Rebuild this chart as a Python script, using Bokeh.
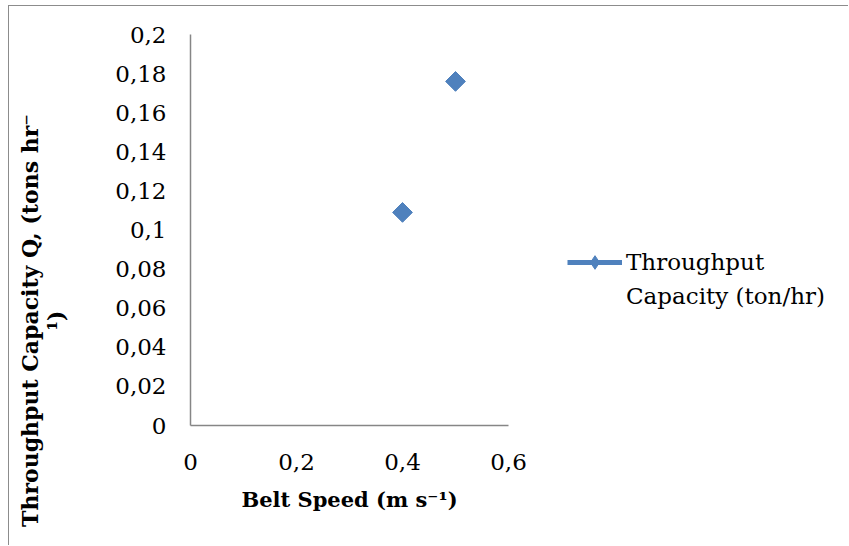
import math
from bokeh.plotting import figure
from bokeh.layouts import row
from bokeh.models import (FixedTicker, Legend, LegendItem, Label, Range1d,
                          ColumnDataSource)
from bokeh.embed import file_html
from bokeh.resources import INLINE

# ---- data ----
belt_speed = [0.4, 0.5]
throughput = [0.109, 0.176]
series_name_lines = ["Throughput", "Capacity (ton/hr)"]
x_ticks = [0.0, 0.2, 0.4, 0.6]
x_tick_labels = ["0", "0,2", "0,4", "0,6"]
y_ticks = [0.0, 0.02, 0.04, 0.06, 0.08, 0.1, 0.12, 0.14, 0.16, 0.18, 0.2]
y_tick_labels = ["0", "0,02", "0,04", "0,06", "0,08", "0,1", "0,12", "0,14",
                 "0,16", "0,18", "0,2"]
x_title = "Belt Speed (m s\u207b\u00b9)"
y_title = "Throughput Capacity Q, (tons hr\u207b\n\u00b9)"

FONT = "DejaVu Serif"
BLUE = "#4F81BD"
GREY = "#868686"

OX, OY = 9, 6          # content origin inside the chart border
H = 545 - OY            # common height
LW = 70 - OX            # left strip (y title)
MW = 560 - 70           # main plot
RW = 848 - 560          # right strip (legend)


def blank(width):
    f = figure(width=width, height=H, output_backend="svg",
               toolbar_location=None, x_range=Range1d(0, 1),
               y_range=Range1d(0, 1), x_axis_location=None,
               y_axis_location=None, min_border=0, min_border_left=0,
               min_border_right=0, min_border_top=0, min_border_bottom=0)
    f.frame_align = False
    f.outline_line_color = None
    f.xgrid.visible = False
    f.ygrid.visible = False
    return f


# ---- main plot ----
p = figure(width=MW, height=H, output_backend="svg", toolbar_location=None,
           x_range=Range1d(0, 0.6), y_range=Range1d(0, 0.2),
           min_border_left=190 - 70, min_border_right=560 - 508,
           min_border_top=34 - OY, min_border_bottom=545 - 425)
p.frame_align = False
p.outline_line_color = None
p.xgrid.visible = False
p.ygrid.visible = False

for ax in (p.xaxis[0], p.yaxis[0]):
    ax.axis_line_color = GREY
    ax.axis_line_width = 1.5
    ax.major_tick_line_color = None
    ax.minor_tick_line_color = None
    ax.major_label_text_font = FONT
    ax.major_label_text_font_size = "23px"
    ax.major_label_text_color = "black"

p.xaxis.ticker = FixedTicker(ticks=x_ticks)
p.yaxis.ticker = FixedTicker(ticks=y_ticks)
p.xaxis.major_label_overrides = dict(zip(x_ticks, x_tick_labels))
p.yaxis.major_label_overrides = dict(zip(y_ticks, y_tick_labels))
p.xaxis.major_label_standoff = 22
p.yaxis.major_label_standoff = 18

p.xaxis.axis_label = x_title
p.xaxis.axis_label_text_font = FONT
p.xaxis.axis_label_text_font_style = "bold"
p.xaxis.axis_label_text_font_size = "21px"
p.xaxis.axis_label_text_color = "black"
p.xaxis.axis_label_standoff = 14

src = ColumnDataSource(dict(x=belt_speed, y=throughput))
p.scatter("x", "y", source=src, marker="square", size=14,
          angle=math.pi / 4, fill_color=BLUE, line_color=BLUE)

# ---- left strip: y axis title ----
left = blank(LW)
left.add_layout(Label(x=42 - OX, y=545 - 320, x_units="screen",
                      y_units="screen", text=y_title, angle=math.pi / 2,
                      text_align="center", text_baseline="middle",
                      text_line_height=1.0, text_font=FONT,
                      text_font_style="bold", text_font_size="22px",
                      text_color="black"))

# ---- right strip: legend ----
right = blank(RW)
nan = float("nan")
key_line = right.line(x=[nan], y=[nan], line_color=BLUE, line_width=5)
key_mark = right.scatter(x=[nan], y=[nan], marker="diamond", size=16,
                         fill_color=BLUE, line_color=BLUE)
key_none = right.line(x=[nan], y=[nan], line_alpha=0)
legend = Legend(items=[LegendItem(label=series_name_lines[0],
                                  renderers=[key_line, key_mark]),
                       LegendItem(label=series_name_lines[1],
                                  renderers=[key_none])],
                location=(567 - 560, 545 - 313),
                glyph_width=55, glyph_height=34, label_standoff=4,
                spacing=0, padding=0, margin=0, border_line_alpha=0,
                background_fill_alpha=0, label_text_font=FONT,
                label_text_font_size="23px", label_text_color="black")
right.add_layout(legend, "center")

layout = row(left, p, right, spacing=0)
layout.margin = (OY - 1, 0, 0, OX - 1)
layout.styles = {"border-left": "1px solid #8c8c8c",
                 "border-top": "1px solid #8c8c8c"}

open("out.html", "w").write(file_html(layout, INLINE))
